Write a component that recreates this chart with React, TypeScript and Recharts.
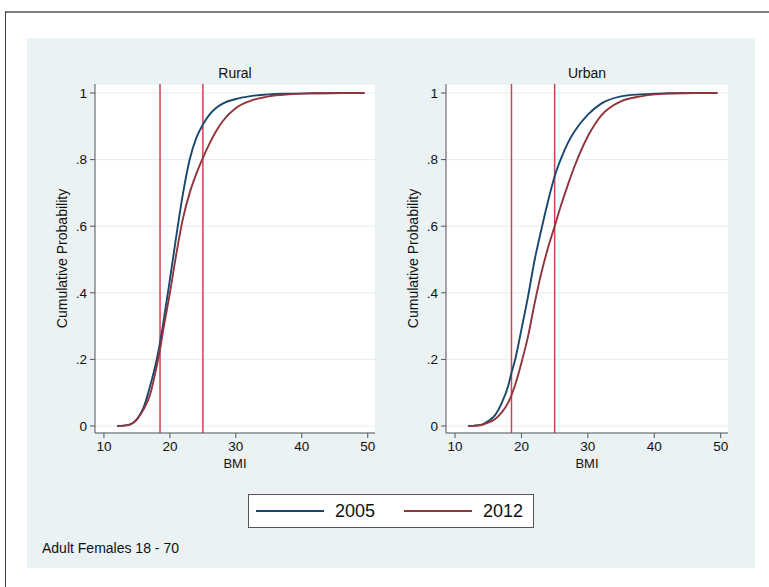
import { LineChart, Line, XAxis, YAxis, CartesianGrid, ReferenceLine } from 'recharts';

// BMI grid shared by all four curves
const bmi = [12, 13, 14, 15, 16, 17, 18, 18.5, 19, 20, 21, 22, 23, 24, 25, 26, 27, 28, 30, 32, 35, 38, 42, 46, 49.5];

const rural2005 = [0, 0.001, 0.005, 0.02, 0.055, 0.12, 0.2, 0.25, 0.31, 0.44, 0.575, 0.7, 0.8, 0.865, 0.905, 0.935, 0.955, 0.968, 0.982, 0.99, 0.996, 0.998, 0.999, 1, 1];
const rural2012 = [0, 0.001, 0.005, 0.02, 0.05, 0.095, 0.18, 0.23, 0.29, 0.4, 0.52, 0.625, 0.7, 0.757, 0.805, 0.848, 0.885, 0.915, 0.955, 0.975, 0.99, 0.996, 0.999, 1, 1];
const urban2005 = [0, 0.001, 0.004, 0.015, 0.032, 0.068, 0.12, 0.16, 0.195, 0.29, 0.39, 0.5, 0.59, 0.675, 0.75, 0.805, 0.85, 0.885, 0.935, 0.968, 0.99, 0.996, 0.999, 1, 1];
const urban2012 = [0, 0.001, 0.003, 0.01, 0.02, 0.04, 0.07, 0.093, 0.12, 0.19, 0.27, 0.37, 0.46, 0.535, 0.6, 0.665, 0.725, 0.78, 0.87, 0.932, 0.975, 0.99, 0.998, 1, 1];

const xTicks = [10, 20, 30, 40, 50];
const yTicks = [0, 0.2, 0.4, 0.6, 0.8, 1];
const cutoffs = [18.5, 25];

const FONT = '"Liberation Sans", Arial, Helvetica, sans-serif';
const BLUE = '#1a476f';
const RED = '#90353b';
const AXIS = '#555';

const fmtY = (v: number) => (v === 0 || v === 1 ? String(v) : String(v).replace(/^0/, ''));

function Panel({ title, a, b, left, width }: { title: string; a: number[]; b: number[]; left: number; width: number }) {
  const data = bmi.map((x, i) => ({ bmi: x, y2005: a[i], y2012: b[i] }));
  const plotLeft = left + 77;
  const plotRight = left + width - 13;
  return (
    <>
      <div style={{ position: 'absolute', left: plotLeft, width: plotRight - plotLeft, top: 65, textAlign: 'center', fontSize: 14, color: '#111' }}>{title}</div>
      <div style={{ position: 'absolute', left, top: 38 }}>
        <LineChart width={width} height={440} data={data} margin={{ top: 46, right: 13, bottom: 0, left: 0 }}>
          <CartesianGrid horizontal vertical={false} fill="#fff" stroke="#e4eef0" />
          <XAxis
            type="number"
            dataKey="bmi"
            domain={[8.64, 51.1]}
            ticks={xTicks}
            allowDataOverflow
            height={45}
            tickSize={5}
            tickMargin={3}
            stroke={AXIS}
            tick={{ fill: '#111', fontSize: 13.5, fontFamily: FONT }}
            label={{ value: 'BMI', position: 'insideBottom', offset: 10, style: { fill: '#111', fontSize: 13, fontFamily: FONT } }}
          />
          <YAxis
            type="number"
            domain={[-0.021, 1.027]}
            ticks={yTicks}
            allowDataOverflow
            width={77}
            tickSize={5}
            tickMargin={3}
            stroke={AXIS}
            tickFormatter={fmtY}
            tick={{ fill: '#111', fontSize: 13.5, fontFamily: FONT }}
            label={{ value: 'Cumulative Probability', angle: -90, position: 'insideLeft', offset: 44, style: { textAnchor: 'middle', fill: '#111', fontSize: 14, fontFamily: FONT } }}
          />
          {cutoffs.map(c => (
            <ReferenceLine key={c} x={c} stroke="#cf3f55" strokeWidth={1.5} />
          ))}
          <Line type="monotone" dataKey="y2005" stroke={BLUE} strokeWidth={1.9} dot={false} isAnimationActive={false} />
          <Line type="monotone" dataKey="y2012" stroke={RED} strokeWidth={1.9} dot={false} isAnimationActive={false} />
        </LineChart>
      </div>
    </>
  );
}

export default function App() {
  return (
    <div style={{ position: 'absolute', left: 0, top: 0, width: 769, height: 587, background: '#fff', fontFamily: FONT, overflow: 'hidden' }}>
      {/* outer frame */}
      <div style={{ position: 'absolute', left: 5, top: 11, width: 764, height: 2, background: '#808080' }} />
      <div style={{ position: 'absolute', left: 5, top: 11, width: 1, height: 576, background: '#444' }} />
      {/* graph region */}
      <div style={{ position: 'absolute', left: 27, top: 38, width: 728, height: 530, background: '#eaf2f3' }} />

      <Panel title="Rural" a={rural2005} b={rural2012} left={18} width={370} />
      <Panel title="Urban" a={urban2005} b={urban2012} left={369} width={372} />

      {/* legend */}
      <div style={{ position: 'absolute', left: 248, top: 494, width: 286, height: 34, boxSizing: 'border-box', border: '1px solid #555', background: '#fff' }}>
        <div style={{ position: 'absolute', left: 7, top: 15, width: 68, height: 2, background: BLUE }} />
        <div style={{ position: 'absolute', left: 86, top: 5, fontSize: 18, lineHeight: '22px', color: '#111' }}>2005</div>
        <div style={{ position: 'absolute', left: 155, top: 15, width: 68, height: 2, background: RED }} />
        <div style={{ position: 'absolute', left: 234, top: 5, fontSize: 18, lineHeight: '22px', color: '#111' }}>2012</div>
      </div>

      <div style={{ position: 'absolute', left: 42, top: 540, fontSize: 14, lineHeight: '16px', color: '#111' }}>Adult Females 18 - 70</div>
    </div>
  );
}
